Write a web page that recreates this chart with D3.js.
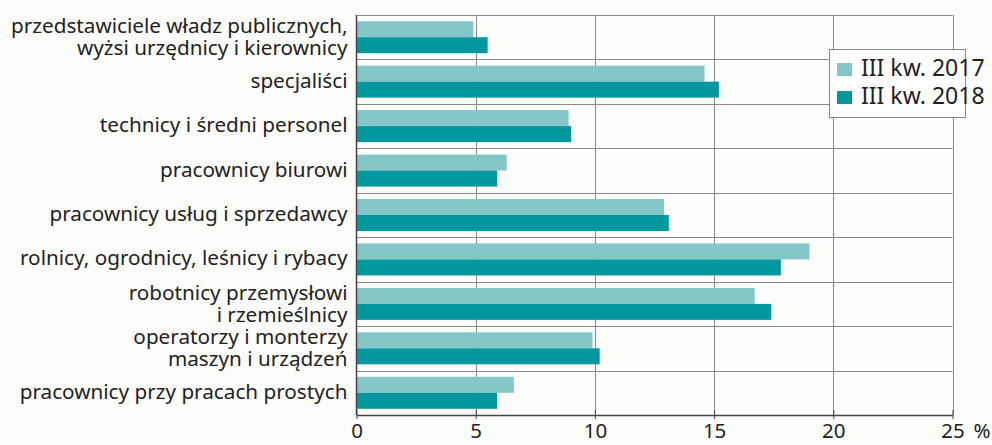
<!DOCTYPE html>
<html>
<head>
<meta charset="utf-8">
<script src="https://cdn.jsdelivr.net/npm/d3@7"></script>
<style>
  html, body { margin: 0; padding: 0; background: #fdfdfc; }
  svg { display: block; font-family: "Noto Sans", sans-serif; }
</style>
</head>
<body>
<script>
const categories = [
  ["przedstawiciele władz publicznych,", "wyżsi urzędnicy i kierownicy"],
  ["specjaliści"],
  ["technicy i średni personel"],
  ["pracownicy biurowi"],
  ["pracownicy usług i sprzedawcy"],
  ["rolnicy, ogrodnicy, leśnicy i rybacy"],
  ["robotnicy przemysłowi", "i rzemieślnicy"],
  ["operatorzy i monterzy", "maszyn i urządzeń"],
  ["pracownicy przy pracach prostych"],
];
const series = ["III kw. 2017", "III kw. 2018"];
const values2017 = [4.9, 14.6, 8.9, 6.3, 12.9, 19.0, 16.7, 9.9, 6.6];
const values2018 = [5.5, 15.2, 9.0, 5.9, 13.1, 17.8, 17.4, 10.2, 5.9];
const xTicks = [0, 5, 10, 15, 20, 25];
const colors = ["#85c6c9", "#00979e"];

function chart() {
  const width = 992;
  const height = 445;
  const margin = { top: 15, right: 39.5, bottom: 30, left: 356.5 };

  const data = categories.map((c, i) => ({
    key: i,
    label: c,
    vals: [values2017[i], values2018[i]],
  }));

  const svg = d3
    .create("svg")
    .attr("width", width)
    .attr("height", height)
    .attr("viewBox", [0, 0, width, height]);

  const x = d3
    .scaleLinear()
    .domain([0, 25])
    .range([margin.left, width - margin.right]);

  const y = d3
    .scaleBand()
    .domain(data.map((d) => d.key))
    .range([margin.top, height - margin.bottom]);

  const ySub = d3
    .scaleBand()
    .domain([0, 1])
    .range([0, y.bandwidth()])
    .paddingInner(0)
    .paddingOuter(0.39);

  // grid
  svg
    .append("g")
    .attr("stroke", "#8a8a8a")
    .attr("stroke-width", 1)
    .call((g) =>
      g
        .selectAll("line.v")
        .data(xTicks.slice(1))
        .join("line")
        .attr("class", "v")
        .attr("x1", (d) => Math.round(x(d)) + 0.5)
        .attr("x2", (d) => Math.round(x(d)) + 0.5)
        .attr("y1", margin.top)
        .attr("y2", height - margin.bottom),
    )
    .call((g) =>
      g
        .selectAll("line.h")
        .data(data)
        .join("line")
        .attr("class", "h")
        .attr("x1", x(0))
        .attr("x2", x(25))
        .attr("y1", (d) => Math.round(y(d.key)) + 0.5)
        .attr("y2", (d) => Math.round(y(d.key)) + 0.5),
    );

  // bars
  svg
    .append("g")
    .selectAll("g")
    .data(data)
    .join("g")
    .attr("transform", (d) => `translate(0,${y(d.key)})`)
    .selectAll("rect")
    .data((d) => d.vals)
    .join("rect")
    .attr("x", x(0))
    .attr("y", (d, i) => ySub(i))
    .attr("width", (d) => x(d) - x(0))
    .attr("height", ySub.bandwidth())
    .attr("fill", (d, i) => colors[i]);

  // axes
  svg
    .append("g")
    .attr("transform", `translate(0,${height - margin.bottom})`)
    .call(
      d3
        .axisBottom(x)
        .tickValues(xTicks)
        .tickSize(4)
        .tickSizeOuter(0)
        .tickPadding(4)
        .tickFormat((d) => d),
    )
    .call((g) => g.select(".domain").attr("stroke", "#444").attr("stroke-width", 1.5))
    .call((g) => g.selectAll(".tick line").attr("stroke", "#444").attr("y1", -5))
    .call((g) =>
      g
        .selectAll(".tick text")
        .attr("fill", "#222")
        .attr("font-size", 20.5)
        .attr("font-family", "Noto Sans, sans-serif"),
    );

  svg
    .append("text")
    .attr("x", x(25) + 21)
    .attr("y", 438)
    .attr("font-size", 20.5)
    .attr("fill", "#222")
    .text("%");

  svg
    .append("line")
    .attr("x1", x(0))
    .attr("x2", x(0))
    .attr("y1", margin.top)
    .attr("y2", height - margin.bottom)
    .attr("stroke", "#444")
    .attr("stroke-width", 1.5);

  // category labels
  svg
    .append("g")
    .attr("text-anchor", "end")
    .attr("font-size", 20.7)
    .attr("fill", "#222")
    .selectAll("text")
    .data(data)
    .join("text")
    .attr("transform", (d) => `translate(${x(0) - 9},${y(d.key) + y.bandwidth() / 2})`)
    .each(function (d) {
      const t = d3.select(this);
      if (d.label.length === 1) {
        t.append("tspan").attr("x", 0).attr("y", 6).text(d.label[0]);
      } else {
        t.append("tspan").attr("x", 0).attr("y", -4).text(d.label[0]);
        t.append("tspan").attr("x", 0).attr("y", 18).text(d.label[1]);
      }
    });

  // legend
  const legend = svg.append("g").attr("transform", "translate(829,49)");
  legend
    .append("rect")
    .attr("x", 0.5)
    .attr("y", 0.5)
    .attr("width", 136)
    .attr("height", 68)
    .attr("fill", "#fff")
    .attr("stroke", "#8a8a8a");
  legend
    .selectAll("g")
    .data(series)
    .join("g")
    .attr("transform", (d, i) => `translate(8,${14 + i * 28})`)
    .call((g) =>
      g
        .append("rect")
        .attr("width", 15)
        .attr("height", 13)
        .attr("fill", (d, i) => colors[i]),
    )
    .call((g) =>
      g
        .append("text")
        .attr("x", 24)
        .attr("y", 13)
        .attr("font-size", 23)
        .attr("fill", "#222")
        .text((d) => d),
    );

  return svg.node();
}

document.body.appendChild(chart());
</script>
</body>
</html>
